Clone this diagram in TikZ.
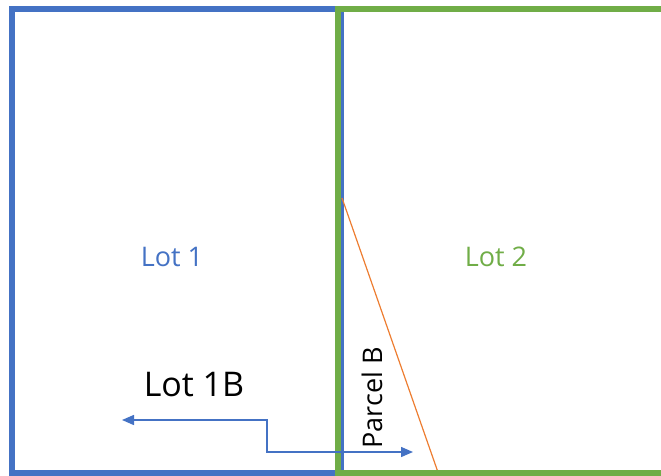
\documentclass[tikz,border=0pt]{standalone}
\usepackage{fontspec}
\setmainfont{Open Sans}
\usetikzlibrary{arrows.meta}
\definecolor{lotblue}{HTML}{4472C4}
\definecolor{lotgreen}{HTML}{70AD47}
\definecolor{lotorange}{HTML}{ED7D31}
\tikzset{
  lotframe/.style={line width=5.5pt},
  lotlabel/.style={inner sep=0pt, anchor=base, font=\fontsize{27}{32}\selectfont},
  arrowline/.style={lotblue, line width=1.4pt, {Triangle[length=12pt,width=10pt]}-{Triangle[length=12pt,width=10pt]}},
}
\begin{document}
\begin{tikzpicture}[x=1pt,y=-1pt]
\useasboundingbox (0,0) rectangle (661,476);
\begin{scope}
\clip (0,0) rectangle (661,476);
\draw[lotframe, lotblue] (12,9) rectangle (341,473);
\draw[lotorange, line width=1.2pt] (342,198) -- (440,478);
\draw[lotframe, lotgreen] (338,9) rectangle (680,473);
\end{scope}
\node[lotlabel, text=lotblue] (lot1) at (172,266) {Lot 1};
\node[lotlabel, text=lotgreen] (lot2) at (496,266) {Lot 2};
\node[lotlabel, font=\fontsize{34}{40}\selectfont] (lot1b) at (194,396) {Lot 1B};
\node[lotlabel, rotate=90] (parcelb) at (382,398) {Parcel B};
\coordinate (al) at (122,420);
\coordinate (am) at (267,420);
\coordinate (an) at (267,452);
\coordinate (ar) at (413,452);
\draw[arrowline] (al) -- (am) -- (an) -- (ar);
\end{tikzpicture}
\end{document}
